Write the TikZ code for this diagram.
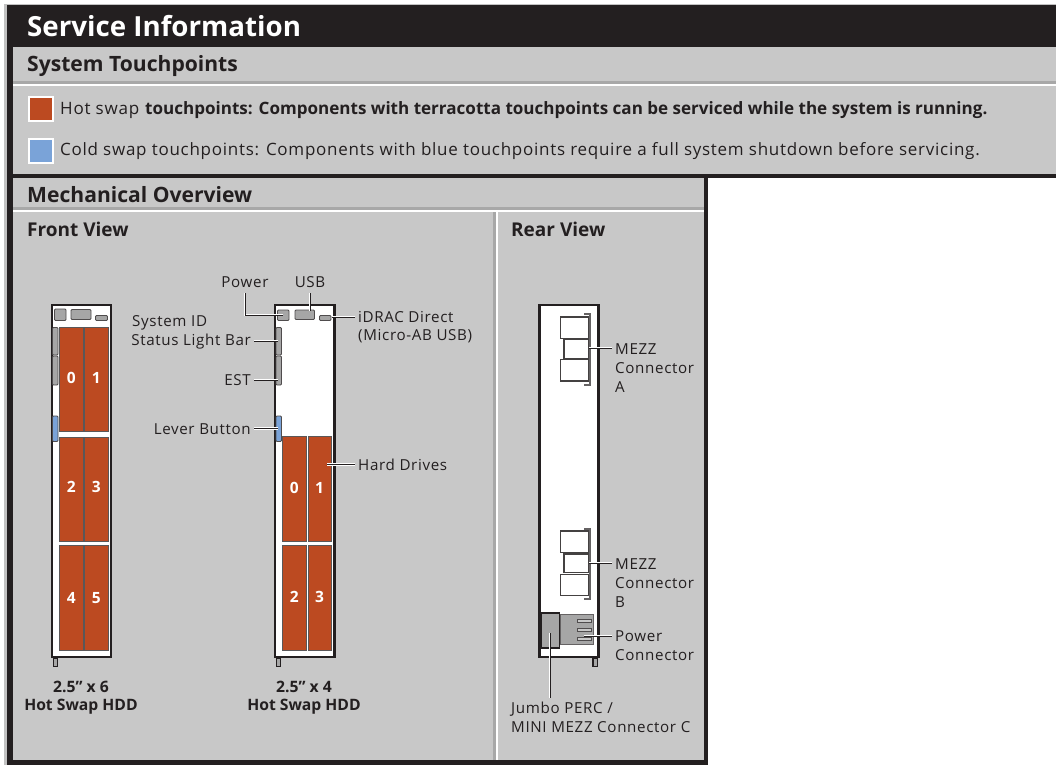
\documentclass[tikz,border=0pt]{standalone}
\usepackage{fontspec}
\setmainfont{Open Sans}[LetterSpace=4.3,BoldFeatures={LetterSpace=0}]
\definecolor{ink}{HTML}{231F20}
\definecolor{panel}{HTML}{C8C8C8}
\definecolor{rulegray}{HTML}{A8A8A8}
\definecolor{terra}{HTML}{BC4A21}
\definecolor{coldblue}{HTML}{7AA3D8}
\definecolor{partgray}{HTML}{A6A6A6}
\newcommand{\fs}[1]{\fontsize{#1pt}{#1pt}\selectfont}
\tikzset{
  x=1pt,y=-1pt,
  lab/.style={inner sep=0pt,text=ink,font=\fs{15.15}},
  boldlab/.style={inner sep=0pt,text=ink,font=\fs{15.7}\bfseries},
  head/.style={inner sep=0pt,text=ink,font=\fs{21.1}\bfseries},
  subhead/.style={inner sep=0pt,text=ink,font=\fs{19}\bfseries},
  num/.style={inner sep=0pt,text=white,font=\fs{15.5}\bfseries},
  chassis/.style={draw=ink,line width=2.4pt,fill=white},
  drive/.style={draw=ink!75,line width=.8pt,fill=terra},
  part/.style={draw=ink!80,line width=.9pt,fill=partgray,rounded corners=1pt},
  mezz/.style={draw=ink!85,line width=1.1pt,fill=white},
  leader/.style={draw=white,line width=.9pt,double=ink,double distance=.9pt},
  bracket/.style={draw=ink!70,line width=2pt},
  swatch/.style={draw=white,line width=2pt},
  foot/.style={draw=ink,line width=1.6pt,fill=partgray}
}
\begin{document}
\begin{tikzpicture}
\useasboundingbox (0,0) rectangle (1056,765);
\fill[white] (0,0) rectangle (1056,765);
% frame
\fill[rulegray!70] (4,4) rectangle (1056,765);
\fill[white] (708,178) rectangle (1056,765);
\fill[ink] (7,5) rectangle (1056,178);
\fill[ink] (7,178) rectangle (708,765);
% panels
\fill[panel] (13,47) rectangle (1056,174);
\fill[panel] (13,178) rectangle (704,760);
\fill[rulegray] (13,81) rectangle (1056,84);
\fill[white] (13,84) rectangle (1056,86);
\fill[rulegray] (13,207) rectangle (704,209.5);
\fill[white] (13,209.5) rectangle (704,212);
\fill[rulegray] (493,212) rectangle (495.5,760);
\fill[white] (495.5,212) rectangle (498,760);
% headings
\node[anchor=west,inner sep=0pt,text=white,font=\fs{27.7}\bfseries] (title) at (27,26.5) {Service Information};
\node[head,anchor=west] (touch) at (27,66.5) {System Touchpoints};
\node[head,anchor=west] (mech) at (27,194.5) {Mechanical Overview};
\node[subhead,anchor=west] (front) at (27,229) {Front View};
\node[subhead,anchor=west] (rear) at (511,229) {Rear View};
% legend
\node[swatch,fill=terra,minimum width=24pt,minimum height=24pt,inner sep=0pt] (hot) at (40.5,109) {};
\node[swatch,fill=coldblue,minimum width=24pt,minimum height=24pt,inner sep=0pt] (cold) at (40.5,150.5) {};
\node[anchor=west,inner sep=0pt,text=ink,font=\fs{17.05}] (hottext) at (60,110) {Hot swap \textbf{touchpoints: Components with terracotta touchpoints can be serviced while the system is running.}};
\node[anchor=west,inner sep=0pt,text=ink,font=\fs{17}] (coldtext) at (60,151) {Cold swap touchpoints: Components with blue touchpoints require a full system shutdown before servicing.};
% chassis 1 (six drives)
\draw[foot] (53.5,658) rectangle (57.5,666.5);
\draw[chassis] (52,305) rectangle (111,657);
\draw[part] (54.5,309) rectangle (66,320.5);
\draw[part] (71,309.5) rectangle (91,319.5);
\draw[part] (95.5,315.5) rectangle (107.5,320.5);
\draw[part] (52.5,327.5) rectangle (58,355);
\draw[part] (52.5,356) rectangle (58,385);
\draw[part,fill=coldblue] (52.5,416) rectangle (58,441.5);
\foreach \c/\a/\b/\n in {a/59.5/83/0,b/84.5/108/1}{\draw[drive] (\a,327) rectangle (\b,431.5); \node[num] (r0\c) at ({(\a+\b)/2},378) {\n};}
\foreach \c/\a/\b/\n in {a/59.5/83/2,b/84.5/108/3}{\draw[drive] (\a,437) rectangle (\b,541.5); \node[num] (r1\c) at ({(\a+\b)/2},487) {\n};}
\foreach \c/\a/\b/\n in {a/59.5/83/4,b/84.5/108/5}{\draw[drive] (\a,545.5) rectangle (\b,650); \node[num] (r2\c) at ({(\a+\b)/2},598) {\n};}
\node[boldlab] (cap1a) at (81,687) {2.5” x 6};
\node[boldlab] (cap1b) at (81,707) {Hot Swap HDD};
% chassis 2 (four drives)
\draw[foot] (276.5,658) rectangle (280.5,666.5);
\draw[chassis] (275,305) rectangle (334.5,657);
\draw[part] (277.5,310) rectangle (289,320.5);
\draw[part] (295,310) rectangle (314.5,319.5);
\draw[part] (319.5,315.5) rectangle (331,320.5);
\draw[part] (276,327.5) rectangle (281.5,355);
\draw[part] (276,356) rectangle (281.5,385);
\draw[part,fill=coldblue] (276,416) rectangle (281.5,441.5);
\foreach \c/\a/\b/\n in {a/282.5/306/0,b/308/331/1}{\draw[drive] (\a,436) rectangle (\b,541.5); \node[num] (s0\c) at ({(\a+\b)/2},488) {\n};}
\foreach \c/\a/\b/\n in {a/282.5/306/2,b/308/331/3}{\draw[drive] (\a,545.5) rectangle (\b,650); \node[num] (s1\c) at ({(\a+\b)/2},597) {\n};}
\node[boldlab] (cap2a) at (304,687) {2.5” x 4};
\node[boldlab] (cap2b) at (304,707) {Hot Swap HDD};
% front labels
\node[lab] (lpower) at (245,282) {Power};
\node[lab] (lusb) at (310,282) {USB};
\node[lab,anchor=west] (lidrac) at (358,317) {iDRAC Direct};
\node[lab,anchor=west] (lmicro) at (358,336.5) {(Micro-AB USB)};
\node[lab,anchor=west] (lsys) at (132,323) {System ID};
\node[lab,anchor=east] (lstat) at (251,342) {Status Light Bar};
\node[lab,anchor=east] (lest) at (251,380) {EST};
\node[lab,anchor=east] (llever) at (251,429) {Lever Button};
\node[lab,anchor=west] (lhdd) at (358,465) {Hard Drives};
% front connectors
\coordinate (pPower) at (283,315);
\coordinate (pUsb) at (310,311);
\coordinate (pIdrac) at (332,317);
\coordinate (pStat) at (278,341);
\coordinate (pEst) at (278,380);
\coordinate (pLever) at (278,428.5);
\coordinate (pHdd) at (327,464.5);
\draw[leader] (lpower.south |- 0,293) |- (pPower);
\draw[leader] (lusb.south |- 0,293) -- (pUsb);
\draw[leader] (pIdrac) -- (355,317);
\draw[leader] (254,341) -- (pStat);
\draw[leader] (254,380) -- (pEst);
\draw[leader] (254,428.5) -- (pLever);
\draw[leader] (pHdd) -- (355,464.5);
% rear chassis
\draw[foot] (593,658) rectangle (597.5,666.5);
\draw[chassis] (539.5,305) rectangle (598.5,657);
% connector A
\draw[mezz] (560.5,317) rectangle (589,338.5);
\draw[mezz] (564,339) rectangle (589,358.5);
\draw[mezz] (560.5,359.5) rectangle (589,381);
\draw[bracket] (584,314) -| (589.5,384.5) -- (584,384.5);
% connector B
\draw[mezz] (560.5,531) rectangle (589,552.5);
\draw[mezz] (564,554) rectangle (589,572.5);
\draw[mezz] (560.5,574.5) rectangle (589,595.5);
\draw[bracket] (584,528.5) -| (589.5,598.5) -- (584,598.5);
% rear power / jumbo
\fill[partgray,draw=ink!70,line width=.8pt] (560,614) rectangle (593,644);
\fill[partgray,draw=ink,line width=1.2pt] (541,613) rectangle (559.5,648);
\foreach \y in {619,628,637}{\draw[draw=ink!80,line width=.8pt,fill=panel] (577,\y) rectangle (591,\y+3);}
% rear labels
\node[lab,anchor=west] (ma1) at (615,349) {MEZZ};
\node[lab,anchor=west] (ma2) at (615,368) {Connector};
\node[lab,anchor=west] (ma3) at (615,387) {A};
\node[lab,anchor=west] (mb1) at (615,564) {MEZZ};
\node[lab,anchor=west] (mb2) at (615,583) {Connector};
\node[lab,anchor=west] (mb3) at (615,602) {B};
\node[lab,anchor=west] (pc1) at (615,636) {Power};
\node[lab,anchor=west] (pc2) at (615,655) {Connector};
\node[lab,anchor=west] (jp1) at (511,709) {Jumbo PERC /};
\node[lab,anchor=west] (jp2) at (511,727) {MINI MEZZ Connector C};
% rear connectors
\coordinate (pMa) at (589,348);
\coordinate (pMb) at (589,563);
\coordinate (pPc) at (584,636);
\coordinate (pJp) at (550,633);
\draw[leader] (pMa) -- (612,348);
\draw[leader] (pMb) -- (612,563);
\draw[leader] (pPc) -- (612,636);
\draw[leader] (pJp) -- (550,698);
\end{tikzpicture}
\end{document}
